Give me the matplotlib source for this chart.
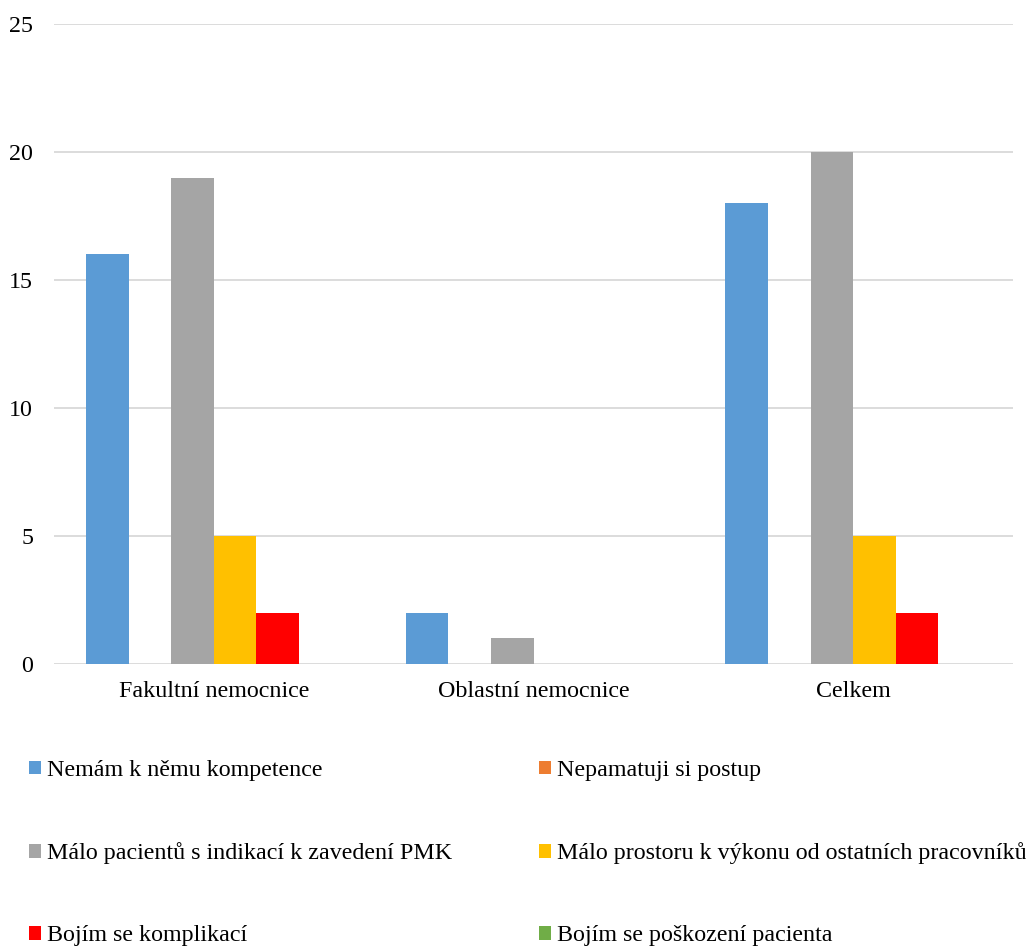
import numpy as np
import matplotlib.pyplot as plt

plt.rcParams['font.family'] = ['Liberation Serif', 'DejaVu Serif']

categories = ['Fakultní nemocnice', 'Oblastní nemocnice', 'Celkem']
series_names = [
    'Nemám k němu kompetence',
    'Nepamatuji si postup',
    'Málo pacientů s indikací k zavedení PMK',
    'Málo prostoru k výkonu od ostatních pracovníků',
    'Bojím se komplikací',
    'Bojím se poškození pacienta',
]
series_values = [
    [16, 2, 18],
    [0, 0, 0],
    [19, 1, 20],
    [5, 0, 5],
    [2, 0, 2],
    [0, 0, 0],
]
colors = ['#5B9BD5', '#ED7D31', '#A5A5A5', '#FFC000', '#FF0000', '#70AD47']
y_ticks = [0, 5, 10, 15, 20, 25]

FS = 17.3
W, H = 1026, 947
fig = plt.figure(figsize=(W / 100, H / 100), dpi=100)
ax = fig.add_axes([54 / W, (H - 664) / H, (1013 - 54) / W, (664 - 24) / H])

n = len(series_names)
x = np.arange(len(categories))
bar_w = 0.8 / n  # 150% gap width between groups
bars = []
for i, (name, vals, c) in enumerate(zip(series_names, series_values, colors)):
    offset = (i - (n - 1) / 2) * bar_w
    bars.append(ax.bar(x + offset, vals, width=bar_w, color=c, label=name, zorder=3))

ax.set_xlim(-0.5, len(categories) - 0.5)
ax.set_ylim(0, 25)
ax.set_yticks(y_ticks)
ax.set_xticks(x)
ax.set_xticklabels(categories)
ax.tick_params(axis='both', length=0, labelsize=FS)
ax.tick_params(axis='y', pad=15)
ax.tick_params(axis='x', pad=12)
ax.grid(axis='y', color='#D9D9D9', linewidth=1.3, zorder=0)
for s in ax.spines.values():
    s.set_visible(False)

# legend fills row by row, two entries per row
order = [0, 2, 4, 1, 3, 5]
fig.legend([bars[i] for i in order], [series_names[i] for i in order],
           loc='upper left', bbox_to_anchor=(29 / W, 1 - 760 / H), ncol=2,
           frameon=False, fontsize=FS, handlelength=0.5, handleheight=0.5,
           handletextpad=0.25, columnspacing=3.6, labelspacing=2.55,
           borderaxespad=0, borderpad=0)

fig.savefig('out.png', dpi=100)
